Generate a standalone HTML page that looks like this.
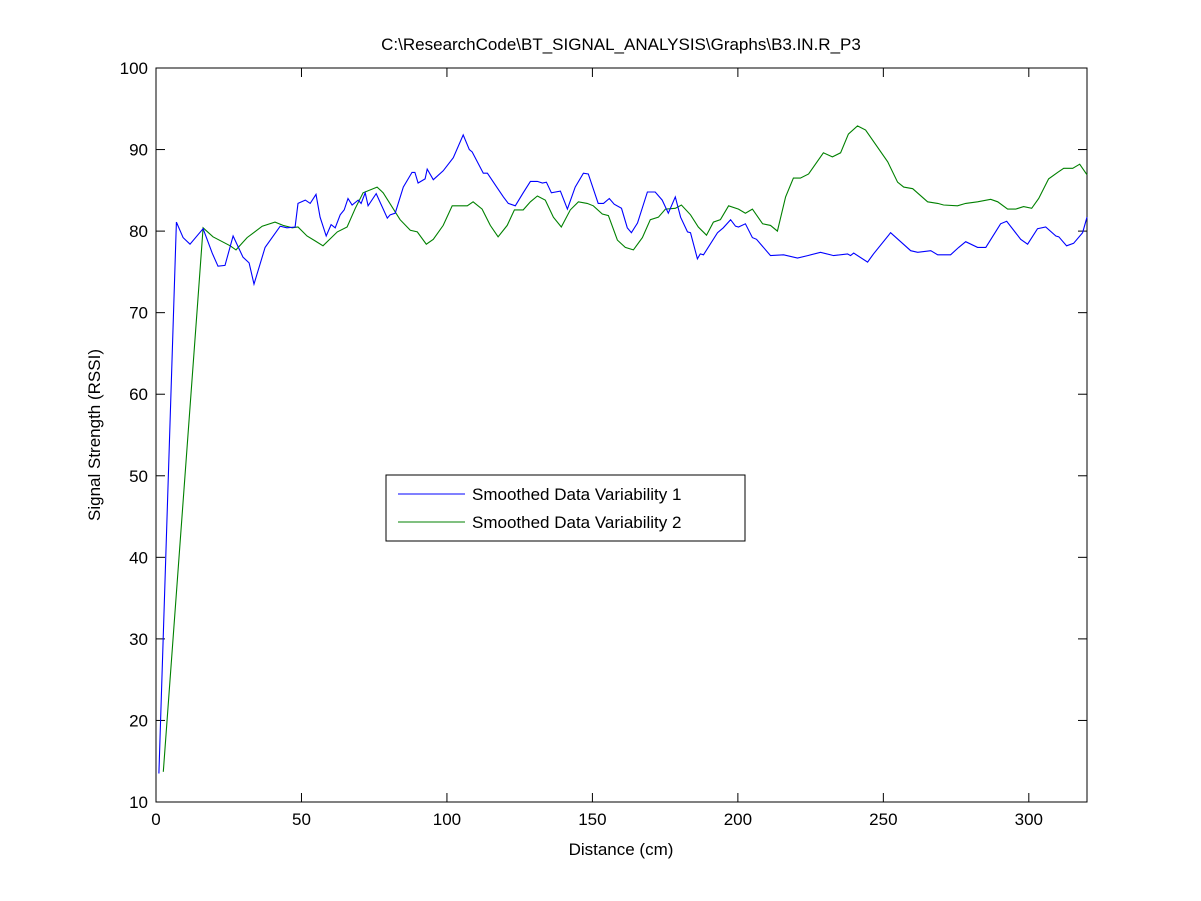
<!DOCTYPE html>
<html><head><meta charset="utf-8"><style>
body{margin:0;background:#fff;}
svg{display:block;font-family:"Liberation Sans",Arial,sans-serif;}
</style></head><body>
<svg id="chart" width="1201" height="901" viewBox="0 0 1201 901">
<rect width="1201" height="901" fill="#fff"/>
<text x="621" y="50" font-size="17" text-anchor="middle">C:\ResearchCode\BT_SIGNAL_ANALYSIS\Graphs\B3.IN.R_P3</text>
<rect x="156" y="68" width="931" height="734" fill="#fff" stroke="#000" stroke-width="1"/>
<g id="ticks"></g>
<g id="series"></g>
<text x="621" y="855" font-size="17" text-anchor="middle">Distance (cm)</text>
<text transform="translate(100,435) rotate(-90)" font-size="17" text-anchor="middle">Signal Strength (RSSI)</text>
<g>
<rect x="386" y="475" width="359" height="66" fill="#fff" stroke="#000"/>
<line x1="398" y1="494" x2="465" y2="494" stroke="#0000ff"/>
<text x="472" y="500" font-size="17">Smoothed Data Variability 1</text>
<line x1="398" y1="522" x2="465" y2="522" stroke="#008000"/>
<text x="472" y="528" font-size="17">Smoothed Data Variability 2</text>
</g>
</svg>
<script>
const xTicks=[0,50,100,150,200,250,300];
const yTicks=[10,20,30,40,50,60,70,80,90,100];
const blueX=[1,7,9.3,11.7,16.2,19.3,21.3,23.7,26.5,29.9,32,33.7,37.5,42.7,45,47.8,48.8,51.3,53,55,56.4,58.5,60.2,61.6,63.3,64.7,66,67.4,69.5,70.5,71.9,72.9,75.7,79.5,80.5,82.2,85,88,89,90.1,92.5,93.2,95.3,98.7,102.2,105.6,107.7,108.7,112.5,113.9,117.3,119.4,121.1,123.5,126.2,128.7,131.1,132.8,134.2,135.9,139,141.4,144.1,146.9,148.6,152,153.8,155.8,157.5,160,162,163.4,165.5,168.9,171.6,174,176.1,178.5,180.3,182.7,183.7,186.1,187.1,188.2,193,195,197.5,199.2,200.2,202.6,205,206.4,211.2,215.7,220.5,224,228.4,232.9,237.7,238.7,239.8,244.6,246.6,252.5,259.4,261.8,266.3,268.7,273.1,275.9,278.3,282.4,285.2,290.3,292.4,297.2,299.6,303,305.8,309.3,310.3,313,315.4,318.5,320];
const blueY=[13.5,81.1,79.2,78.4,80.3,77.3,75.7,75.8,79.4,76.8,76.1,73.5,78,80.6,80.4,80.5,83.4,83.8,83.4,84.5,81.7,79.4,80.8,80.4,82,82.6,84,83.2,83.8,83.4,84.7,83.1,84.6,81.6,82,82.2,85.4,87.2,87.2,85.9,86.4,87.6,86.3,87.4,89,91.8,90,89.7,87.1,87.1,85.3,84.2,83.4,83.1,84.7,86.1,86.1,85.9,86,84.7,84.9,82.7,85.4,87.1,87,83.4,83.4,84,83.3,82.8,80.4,79.8,81,84.8,84.8,83.8,82.2,84.2,81.7,79.9,79.8,76.6,77.2,77.1,79.8,80.4,81.4,80.6,80.5,80.9,79.2,79,77,77.1,76.7,77,77.4,77,77.2,77,77.3,76.2,77.2,79.8,77.6,77.4,77.6,77.1,77.1,78,78.7,78,78,80.9,81.2,79,78.4,80.3,80.5,79.4,79.3,78.2,78.5,79.8,81.7];
const greenX=[2.5,14.4,16.2,19.6,25.5,27.5,31.3,36.5,40.9,43.7,46.8,48.8,51.9,54.7,57.4,62.3,65.7,68.5,71.2,76,78.1,83.9,87.4,89.8,92.9,95.3,98.7,101.8,107,109,112.1,114.9,117.6,120.7,123.2,126.2,128.7,131.1,133.8,136.6,139.3,142.4,145.2,148.2,150.3,153.4,155.5,158.6,161.3,164.1,167.2,169.9,172.7,175.1,178.5,180.6,183.7,186.4,189.2,191.6,194,196.8,200.2,202.6,205,208.5,211.2,213.6,216.4,219.1,221.5,224.3,229.4,232.5,235.3,238,241.1,243.9,251.5,254.9,257,260.1,265.2,268.7,270.7,275.5,278.3,282.4,286.9,289.3,292.7,295.5,298.2,301,303.4,306.8,309.9,312,315.1,317.5,320];
const greenY=[13.7,71.6,80.4,79.3,78.2,77.7,79.2,80.6,81.1,80.7,80.4,80.5,79.4,78.8,78.2,79.9,80.5,82.8,84.7,85.4,84.7,81.4,80.1,79.9,78.4,79,80.7,83.1,83.1,83.6,82.7,80.7,79.3,80.7,82.6,82.6,83.6,84.3,83.8,81.7,80.5,82.6,83.6,83.4,83.1,82.1,81.9,78.9,78,77.7,79.2,81.4,81.7,82.7,82.8,83.2,82,80.5,79.5,81.1,81.4,83.1,82.7,82.2,82.7,80.9,80.7,80,84.2,86.5,86.5,87,89.6,89.1,89.6,91.9,92.9,92.4,88.5,86,85.4,85.2,83.6,83.4,83.2,83.1,83.4,83.6,83.9,83.6,82.7,82.7,83,82.8,84,86.4,87.2,87.7,87.7,88.2,86.9];
const X0=156,X1=1087,Y0=802,Y1=68;
const sx=v=>X0+(v-0)/(320-0)*(X1-X0);
const sy=v=>Y0-(v-10)/(100-10)*(Y0-Y1);
const NS="http://www.w3.org/2000/svg";
const tg=document.getElementById('ticks');
function mk(tag,attrs,parent){const e=document.createElementNS(NS,tag);for(const k in attrs)e.setAttribute(k,attrs[k]);parent.appendChild(e);return e;}
xTicks.forEach(t=>{const x=sx(t);
 const l1=mk('line',{x1:x,y1:Y0,x2:x,y2:Y0-9,stroke:'#000'},tg);
 
 
 mk('line',{x1:x,y1:Y1,x2:x,y2:Y1+9,stroke:'#000'},tg);
 const tx=mk('text',{x:x,y:Y0+23,'font-size':17,'text-anchor':'middle'},tg);tx.textContent=t;
 
 
});
yTicks.forEach(t=>{const y=sy(t);
 const l1=mk('line',{x1:X0,y1:y,x2:X0+9,y2:y,stroke:'#000'},tg);
 
 
 mk('line',{x1:X1,y1:y,x2:X1-9,y2:y,stroke:'#000'},tg);
 const tx=mk('text',{x:X0-8,y:y+6,'font-size':17,'text-anchor':'end'},tg);tx.textContent=t;
 
 
});
const sg=document.getElementById('series');
function line(xs,ys,color,name){
 const d=xs.map((v,i)=>(i?'L':'M')+sx(v).toFixed(1)+','+sy(ys[i]).toFixed(1)).join('');
 const p=mk('path',{d:d,fill:'none',stroke:color,'stroke-width':1.1},sg);
 
 
}
line(greenX,greenY,'#008000','series-variability-2');
line(blueX,blueY,'#0000ff','series-variability-1');
</script>
</body></html>
